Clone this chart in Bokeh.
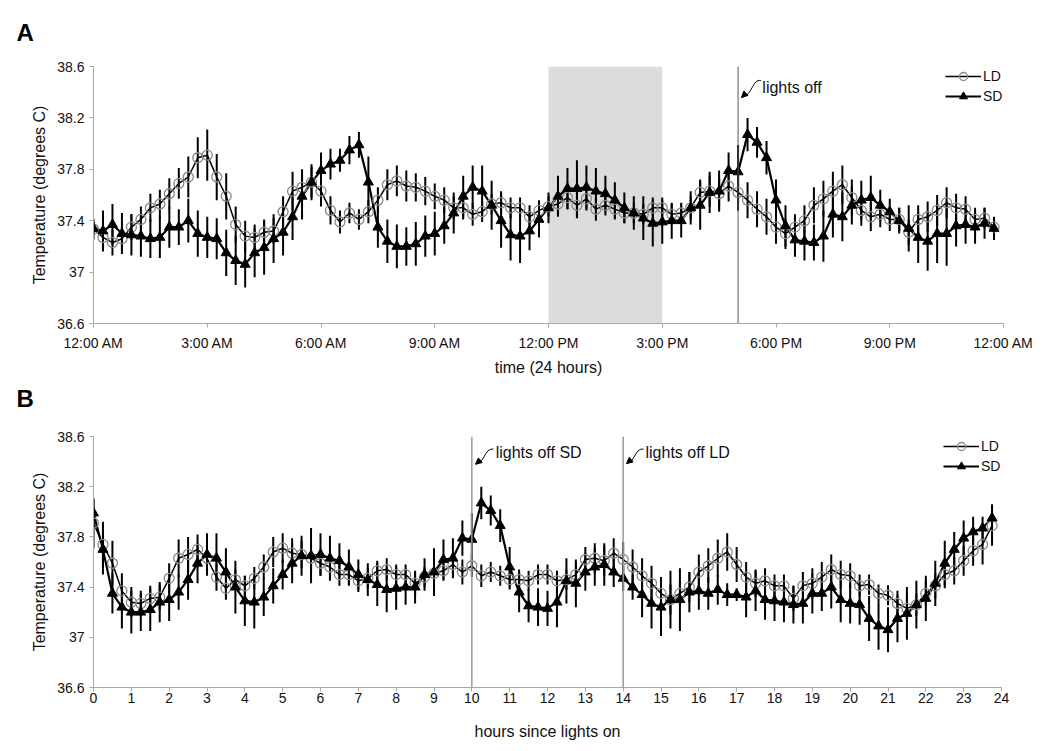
import numpy as np
from bokeh.plotting import figure
from bokeh.models import (Range1d, FixedTicker, BoxAnnotation, Span, Label, Title,
                          Legend, LegendItem, ColumnDataSource, Arrow, NormalHead)
from bokeh.layouts import column
from bokeh.embed import file_html
from bokeh.resources import INLINE

FONT = "Liberation Sans"

# 15-minute bins over 24 h (clock time, panel A)
N_BINS = 96
BIN_HOURS = 0.25

LD_TEMP = [
    37.335, 37.27, 37.23, 37.26, 37.35, 37.41, 37.50, 37.53, 37.61, 37.69,
    37.74, 37.89, 37.91, 37.74, 37.59, 37.37, 37.28, 37.27, 37.31, 37.32,
    37.47, 37.63, 37.66, 37.70, 37.63, 37.48, 37.39, 37.46, 37.41, 37.47,
    37.56, 37.68, 37.71, 37.67, 37.66, 37.63, 37.59, 37.56, 37.50, 37.50,
    37.45, 37.47, 37.53, 37.54, 37.50, 37.50, 37.43, 37.48, 37.51, 37.53,
    37.58, 37.52, 37.57, 37.49, 37.52, 37.49, 37.46, 37.46, 37.45, 37.50,
    37.50, 37.45, 37.46, 37.50, 37.62, 37.63, 37.61, 37.67, 37.62, 37.56,
    37.49, 37.43, 37.35, 37.30, 37.35, 37.40, 37.52, 37.57, 37.63, 37.68,
    37.58, 37.48, 37.43, 37.45, 37.41, 37.41, 37.31, 37.41, 37.43, 37.48,
    37.54, 37.50, 37.49, 37.41, 37.42, 37.35]

LD_SEM = [
    0.08, 0.10, 0.10, 0.09, 0.10, 0.10, 0.11, 0.11, 0.12, 0.12,
    0.16, 0.16, 0.20, 0.18, 0.18, 0.14, 0.12, 0.10, 0.10, 0.10,
    0.12, 0.15, 0.14, 0.12, 0.12, 0.11, 0.09, 0.08, 0.08, 0.09,
    0.10, 0.12, 0.12, 0.12, 0.11, 0.11, 0.10, 0.10, 0.09, 0.09,
    0.09, 0.08, 0.08, 0.09, 0.08, 0.08, 0.09, 0.08, 0.08, 0.08,
    0.09, 0.10, 0.09, 0.09, 0.08, 0.08, 0.08, 0.08, 0.08, 0.08,
    0.08, 0.08, 0.08, 0.09, 0.10, 0.12, 0.12, 0.12, 0.14, 0.14,
    0.14, 0.14, 0.13, 0.12, 0.10, 0.12, 0.14, 0.14, 0.15, 0.15,
    0.14, 0.12, 0.11, 0.10, 0.09, 0.09, 0.10, 0.11, 0.12, 0.12,
    0.12, 0.11, 0.10, 0.09, 0.08, 0.07]

SD_TEMP = [
    37.34, 37.32, 37.37, 37.30, 37.29, 37.28, 37.26, 37.27, 37.35, 37.35,
    37.40, 37.30, 37.27, 37.26, 37.15, 37.09, 37.06, 37.15, 37.19, 37.26,
    37.31, 37.43, 37.59, 37.70, 37.79, 37.84, 37.87, 37.95, 37.99, 37.70,
    37.35, 37.24, 37.20, 37.20, 37.22, 37.28, 37.30, 37.36, 37.46, 37.59,
    37.66, 37.63, 37.52, 37.40, 37.29, 37.28, 37.32, 37.41, 37.50, 37.59,
    37.65, 37.65, 37.66, 37.63, 37.61, 37.56, 37.50, 37.46, 37.42, 37.38,
    37.39, 37.40, 37.40, 37.50, 37.52, 37.62, 37.63, 37.79, 37.78, 38.07,
    38.01, 37.89, 37.56, 37.36, 37.25, 37.24, 37.23, 37.28, 37.45, 37.43,
    37.52, 37.56, 37.58, 37.52, 37.47, 37.40, 37.34, 37.27, 37.24, 37.30,
    37.30, 37.36, 37.37, 37.35, 37.38, 37.34]

SD_SEM = [
    0.05, 0.16, 0.16, 0.16, 0.16, 0.16, 0.15, 0.16, 0.16, 0.14,
    0.17, 0.18, 0.16, 0.16, 0.18, 0.19, 0.18, 0.19, 0.21, 0.19,
    0.18, 0.18, 0.18, 0.14, 0.14, 0.12, 0.09, 0.11, 0.10, 0.20,
    0.16, 0.17, 0.17, 0.15, 0.17, 0.16, 0.17, 0.14, 0.16, 0.16,
    0.17, 0.20, 0.19, 0.21, 0.20, 0.21, 0.15, 0.14, 0.12, 0.16,
    0.16, 0.22, 0.17, 0.18, 0.14, 0.14, 0.12, 0.13, 0.17, 0.18,
    0.17, 0.14, 0.13, 0.13, 0.19, 0.16, 0.16, 0.14, 0.21, 0.13,
    0.12, 0.13, 0.16, 0.16, 0.13, 0.15, 0.14, 0.20, 0.18, 0.19,
    0.15, 0.15, 0.17, 0.12, 0.10, 0.10, 0.18, 0.20, 0.23, 0.23,
    0.25, 0.16, 0.15, 0.13, 0.12, 0.09]

# lights-on times (clock hour) used to re-align panel B
LD_LIGHTS_ON = 3
SD_LIGHTS_ON = 7
LIGHTS_OFF = 17

TIME_TICKS = [0, 3, 6, 9, 12, 15, 18, 21, 24]
TIME_LABELS = ["12:00 AM", "3:00 AM", "6:00 AM", "9:00 AM", "12:00 PM",
               "3:00 PM", "6:00 PM", "9:00 PM", "12:00 AM"]
HOUR_TICKS = list(range(0, 25))
Y_TICKS = [36.6, 37.0, 37.4, 37.8, 38.2, 38.6]
Y_LABELS = ["36.6", "37", "37.4", "37.8", "38.2", "38.6"]


def make_panel(ld, ld_err, sd, sd_err, fw, fh, bt, bb, br, xlabel,
               xticks, xlabels, tick_standoff, label_standoff):
    x = np.arange(N_BINS) * BIN_HOURS
    ld = np.asarray(ld); sd = np.asarray(sd)
    ld_err = np.asarray(ld_err); sd_err = np.asarray(sd_err)
    src = ColumnDataSource(dict(x=x, ld=ld, sd=sd,
                                ld_lo=ld - ld_err, ld_hi=ld + ld_err,
                                sd_lo=sd - sd_err, sd_hi=sd + sd_err))
    p = figure(frame_width=fw, frame_height=fh,
               x_range=Range1d(0, 24), y_range=Range1d(36.6, 38.6),
               output_backend="svg", toolbar_location=None,
               min_border_left=93, min_border_right=br,
               min_border_top=bt, min_border_bottom=bb)
    p.xgrid.visible = False
    p.ygrid.visible = False
    p.outline_line_color = None
    p.background_fill_color = "white"
    p.border_fill_color = "white"

    p.segment(x0="x", y0="ld_lo", x1="x", y1="ld_hi", source=src,
              line_color="black", line_width=2)
    p.segment(x0="x", y0="sd_lo", x1="x", y1="sd_hi", source=src,
              line_color="black", line_width=2)
    ld_line = p.line("x", "ld", source=src, line_color="black", line_width=1.5)
    sd_line = p.line("x", "sd", source=src, line_color="black", line_width=2.2)
    ld_pts = p.scatter("x", "ld", source=src, marker="circle", size=10,
                       line_color="#8a8a8a", line_width=1.3, fill_color=None)
    sd_pts = p.scatter("x", "sd", source=src, marker="triangle", size=10,
                       line_color="black", fill_color="black")

    legend = Legend(items=[LegendItem(label="LD", renderers=[ld_line, ld_pts]),
                           LegendItem(label="SD", renderers=[sd_line, sd_pts])],
                    location="top_right", glyph_width=36, glyph_height=20,
                    label_height=20, label_standoff=2, spacing=0, padding=1,
                    margin=0, border_line_color=None, background_fill_alpha=0,
                    label_text_font=FONT, label_text_font_size="14px",
                    label_text_color="#111111")
    p.add_layout(legend)

    p.xaxis.ticker = FixedTicker(ticks=xticks)
    if xlabels is not None:
        p.xaxis.major_label_overrides = {t: l for t, l in zip(xticks, xlabels)}
    p.yaxis.ticker = FixedTicker(ticks=Y_TICKS)
    p.yaxis.major_label_overrides = {t: l for t, l in zip(Y_TICKS, Y_LABELS)}
    for ax in p.xaxis + p.yaxis:
        ax.axis_line_color = "#a8a8a8"
        ax.major_tick_line_color = "#a8a8a8"
        ax.minor_tick_line_color = None
        ax.major_tick_out = 4
        ax.major_tick_in = 0
        ax.major_label_text_font = FONT
        ax.major_label_text_font_size = "14px"
        ax.major_label_text_color = "#111111"
        ax.axis_label_text_font = FONT
        ax.axis_label_text_font_size = "16px"
        ax.axis_label_text_font_style = "normal"
        ax.axis_label_text_color = "#111111"
    p.xaxis.major_label_standoff = tick_standoff
    p.xaxis.axis_label_standoff = label_standoff
    p.xaxis.axis_label = xlabel
    p.yaxis.axis_label = "Temperature (degrees C)"
    p.yaxis.major_label_standoff = 5
    p.yaxis.axis_label_standoff = 6
    return p


def panel_letter(text, standoff):
    return Title(text=text, align="left", vertical_align="top", offset=-77,
                 standoff=standoff, text_font=FONT, text_font_size="24px",
                 text_font_style="bold", text_color="black")


def curved_arrow(p, xs, ys, xe, ye, cx0, cy0, cx1, cy1, hx, hy):
    p.bezier(x0=[xs], y0=[ys], x1=[xe], y1=[ye], cx0=[cx0], cy0=[cy0],
             cx1=[cx1], cy1=[cy1], line_color="black", line_width=1)
    p.add_layout(Arrow(end=NormalHead(size=6, fill_color="black",
                                      line_color="black", line_width=1),
                       x_start=hx, y_start=hy, x_end=xe, y_end=ye,
                       line_color="black", line_width=1))


# ---- Panel A ----
pa = make_panel(LD_TEMP, LD_SEM, SD_TEMP, SD_SEM, 910, 257, 66, 52, 30,
                "time (24 hours)", TIME_TICKS, TIME_LABELS, 7, 5)
pa.title = panel_letter("A", 37)
pa.add_layout(BoxAnnotation(left=12, right=15, fill_color="#dcdcdc",
                            fill_alpha=1, line_color=None, level="underlay"))
pa.add_layout(Span(location=LIGHTS_OFF, dimension="height",
                   line_color="#5a5a5a", line_width=1))
pa.add_layout(Label(x=17.64, y=38.44, text="lights off", text_font=FONT,
                    text_font_size="16px", text_baseline="middle",
                    text_color="#111111"))
curved_arrow(pa, 17.6, 38.49, 17.09, 38.36, 17.38, 38.51, 17.38, 38.37,
             17.2, 38.39)
# letter of the second panel sits in the gap between the panels
pa.add_layout(panel_letter("B", 13), "below")

# ---- Panel B: realigned to hours since lights on ----
ld_shift = int(LD_LIGHTS_ON / BIN_HOURS)
sd_shift = int(SD_LIGHTS_ON / BIN_HOURS)
pb = make_panel(np.roll(LD_TEMP, -ld_shift), np.roll(LD_SEM, -ld_shift),
                np.roll(SD_TEMP, -sd_shift), np.roll(SD_SEM, -sd_shift),
                908, 251, 16, 55, 32, "hours since lights on",
                HOUR_TICKS, None, 1, 17)
for loc in (LIGHTS_OFF - SD_LIGHTS_ON, LIGHTS_OFF - LD_LIGHTS_ON):
    pb.add_layout(Span(location=loc, dimension="height",
                       line_color="#9a9a9a", line_width=1.5))
pb.add_layout(Label(x=10.63, y=38.47, text="lights off SD", text_font=FONT,
                    text_font_size="16px", text_baseline="middle",
                    text_color="#111111"))
pb.add_layout(Label(x=14.59, y=38.47, text="lights off LD", text_font=FONT,
                    text_font_size="16px", text_baseline="middle",
                    text_color="#111111"))
curved_arrow(pb, 10.57, 38.50, 10.10, 38.38, 10.33, 38.51, 10.33, 38.38,
             10.22, 38.41)
curved_arrow(pb, 14.54, 38.50, 14.09, 38.385, 14.30, 38.51, 14.30, 38.385,
             14.21, 38.415)

layout = column(pa, pb, spacing=0)
open("out.html", "w").write(file_html(layout, INLINE))
